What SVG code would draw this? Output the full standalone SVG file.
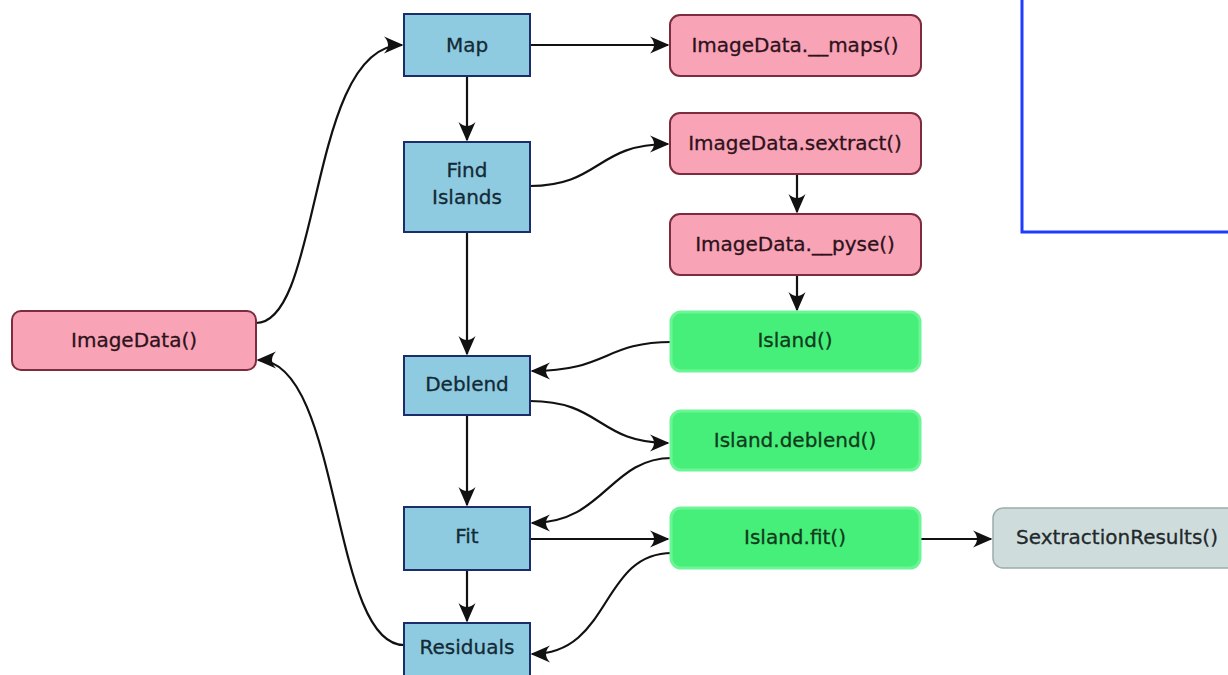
<svg xmlns="http://www.w3.org/2000/svg" width="1228" height="675" viewBox="0 0 1228 675">
  <style>
    .proc rect { fill: #8fcbe0; stroke: #1c2d6b; stroke-width: 2; }
    .call rect { fill: #f8a4b6; stroke: #7d2b3e; stroke-width: 2; }
    .obj rect { fill: #45ef79; stroke: #6cf595; stroke-width: 3; }
    .res rect { fill: #cfdcdc; stroke: #9eabab; stroke-width: 1.5; }
    text { font-family: "DejaVu Sans", "Liberation Sans", sans-serif; font-size: 20px; text-anchor: middle; dominant-baseline: central; stroke-width: 0.3; }
    .proc text { fill: #132a36; stroke: #132a36; }
    .call text { fill: #2e111b; stroke: #2e111b; }
    .obj text { fill: #113a1d; stroke: #113a1d; }
    .res text { fill: #1f292b; stroke: #1f292b; }
    #connectors path { fill: none; stroke: #111; stroke-width: 2.2; marker-end: url(#head); }
  </style>
  <defs>
    <marker id="head" markerUnits="userSpaceOnUse" markerWidth="22" markerHeight="20" viewBox="-19 -10 22 20" refX="0" refY="0" orient="auto">
      <path d="M1.5,0 L-18,-8.5 Q-10,0 -18,8.5 Z" fill="#111"/>
    </marker>
  </defs>

  <rect width="1228" height="675" fill="#ffffff"/>

  <!-- framed panel at the top right -->
  <rect x="1022" y="-10" width="230" height="242" fill="none" stroke="#1e3cff" stroke-width="3"/>

  <g id="connectors">
    <path d="M256,323 C322,323 308,45 402,45"/>
    <path d="M404,645 C330,645 342,360 258,360"/>
    <path d="M530,45 L668,45"/>
    <path d="M467,76 L467,140"/>
    <path d="M467,232 L467,354"/>
    <path d="M467,415 L467,505"/>
    <path d="M467,570 L467,621"/>
    <path d="M530,186 C600,186 596,144 668,144"/>
    <path d="M797,175 L797,212"/>
    <path d="M797,276 L797,310"/>
    <path d="M672,342 C604,342 608,371 532,371"/>
    <path d="M530,401 C602,401 598,443 668,443"/>
    <path d="M672,458 C610,458 604,523 532,523"/>
    <path d="M530,539 L668,539"/>
    <path d="M672,553 C600,553 612,654 532,654"/>
    <path d="M921,539 L991,539"/>
  </g>

  <g id="imagedata" class="call">
    <rect x="12" y="311" width="244" height="59" rx="9"/>
    <text x="134" y="340">ImageData()</text>
  </g>

  <g id="map" class="proc">
    <rect x="404" y="14" width="126" height="62"/>
    <text x="467" y="45">Map</text>
  </g>
  <g id="find-islands" class="proc">
    <rect x="404" y="142" width="126" height="90"/>
    <text x="467" y="170">Find</text>
    <text x="467" y="197">Islands</text>
  </g>
  <g id="deblend" class="proc">
    <rect x="404" y="356" width="126" height="59"/>
    <text x="467" y="384">Deblend</text>
  </g>
  <g id="fit" class="proc">
    <rect x="404" y="507" width="126" height="63"/>
    <text x="467" y="536">Fit</text>
  </g>
  <g id="residuals" class="proc">
    <rect x="404" y="623" width="126" height="70"/>
    <text x="467" y="647">Residuals</text>
  </g>

  <g id="maps" class="call">
    <rect x="670" y="15" width="251" height="61" rx="10"/>
    <text x="795" y="45">ImageData.__maps()</text>
  </g>
  <g id="sextract" class="call">
    <rect x="670" y="113" width="251" height="61" rx="10"/>
    <text x="795" y="143">ImageData.sextract()</text>
  </g>
  <g id="pyse" class="call">
    <rect x="670" y="214" width="251" height="61" rx="10"/>
    <text x="795" y="244">ImageData.__pyse()</text>
  </g>

  <g id="island" class="obj">
    <rect x="671" y="312" width="249" height="59" rx="10"/>
    <text x="795" y="340">Island()</text>
  </g>
  <g id="island-deblend" class="obj">
    <rect x="671" y="411" width="249" height="59" rx="10"/>
    <text x="795" y="440">Island.deblend()</text>
  </g>
  <g id="island-fit" class="obj">
    <rect x="671" y="508" width="249" height="60" rx="10"/>
    <text x="795" y="537">Island.fit()</text>
  </g>

  <g id="sextraction-results" class="res">
    <rect x="993" y="508" width="250" height="60" rx="10"/>
    <text x="1117" y="537">SextractionResults()</text>
  </g>
</svg>
